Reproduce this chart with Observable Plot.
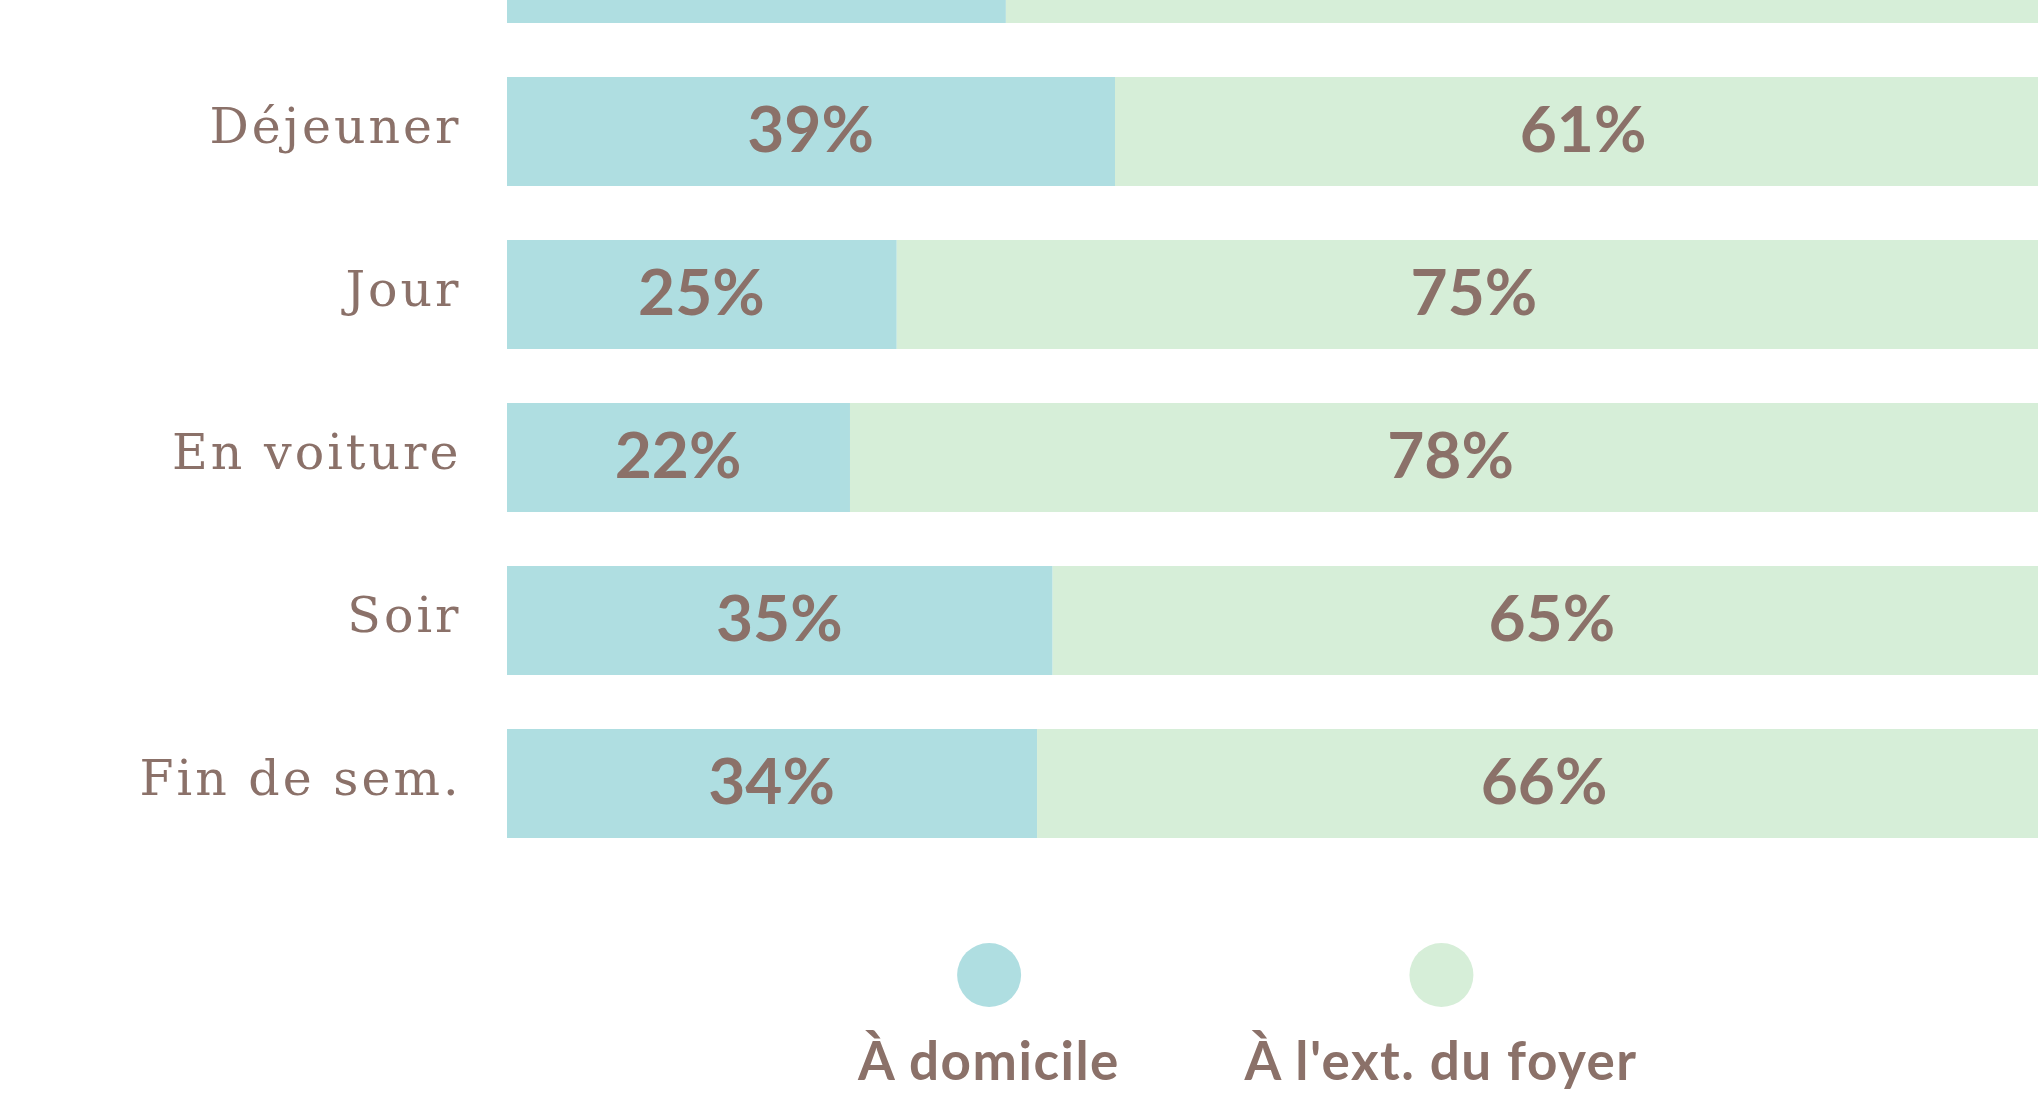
<!DOCTYPE html>
<html>
<head>
<meta charset="utf-8">
<script src="https://cdn.jsdelivr.net/npm/d3@7"></script>
<script src="https://cdn.jsdelivr.net/npm/@observablehq/plot@0.6"></script>
<style>
  html, body { margin: 0; padding: 0; background: #fff; overflow: hidden; width: 2038px; height: 1120px; }
  #wrap { position: relative; width: 2038px; height: 1120px; overflow: hidden; }
  #chart svg { overflow: hidden; display: block; }
  #chart svg g[aria-label="y-axis tick label"] text { letter-spacing: 3px; }
  .leg { position: absolute; top: 943px; transform: translateX(-50%); display: flex; flex-direction: column; align-items: center; }
  .leg .dot { width: 64px; height: 64px; border-radius: 50%; }
  .leg .lab { margin-top: 26px; font-family: Lato, sans-serif; font-weight: 700; font-size: 53px; line-height: 1; color: #8b7169; white-space: nowrap; letter-spacing: 1.5px; }
</style>
</head>
<body>
<div id="wrap">
  <div id="chart"></div>
</div>
<script>
// Categories (the top one is cut off at the top of the picture; its label is not visible)
const categories = ["", "Déjeuner", "Jour", "En voiture", "Soir", "Fin de sem."];
const series = ["À domicile", "À l'ext. du foyer"];
const domicile = [32, 39, 25, 22, 35, 34];
const exterieur = [68, 61, 75, 78, 65, 66];
const colors = ["#afdee1", "#d6eed8"];

const textColor = "#8b7169";

const data = [];
categories.forEach((c, i) => {
  data.push({cat: c, series: series[0], value: domicile[i]});
  data.push({cat: c, series: series[1], value: exterieur[i]});
});

// stack over both series first, then keep one series' labels
const labelMark = (s, dx) => Plot.text(data, Plot.filter(
  d => d.cat !== "" && d.series === s,
  Plot.stackX({
    x: "value", y: "cat", text: d => d.value + "%",
    dx, fontSize: 64, fontWeight: 700, fontFamily: "Lato, sans-serif", fill: textColor
  })
));

const plot = Plot.plot({
  width: 2038,
  height: 900,
  marginLeft: 507,
  marginRight: 0,
  marginTop: 0,
  marginBottom: 0,
  style: {background: "transparent", color: textColor},
  x: {domain: [0, 100], range: [507, 2066], axis: null},
  y: {domain: categories, range: [-87, 838.3], paddingInner: 0.332, paddingOuter: 0, label: null},
  color: {domain: series, range: colors},
  marks: [
    Plot.barX(data, {x: "value", y: "cat", fill: "series"}),
    labelMark(series[0], -1),
    labelMark(series[1], -8),
    Plot.axisY({
      tickSize: 0, tickPadding: 46, fontSize: 49, dy: -5,
      fontFamily: "DejaVu Serif, serif", color: textColor, label: null
    })
  ]
});
document.getElementById("chart").appendChild(plot);

// Legend below the chart
const legendX = [989, 1441];
const wrap = document.getElementById("wrap");
series.forEach((s, i) => {
  const item = document.createElement("div");
  item.className = "leg";
  item.style.left = legendX[i] + "px";
  const dot = document.createElement("div");
  dot.className = "dot";
  dot.style.background = colors[i];
  const lab = document.createElement("div");
  lab.className = "lab";
  lab.textContent = s;
  item.appendChild(dot);
  item.appendChild(lab);
  wrap.appendChild(item);
});
</script>
</body>
</html>
